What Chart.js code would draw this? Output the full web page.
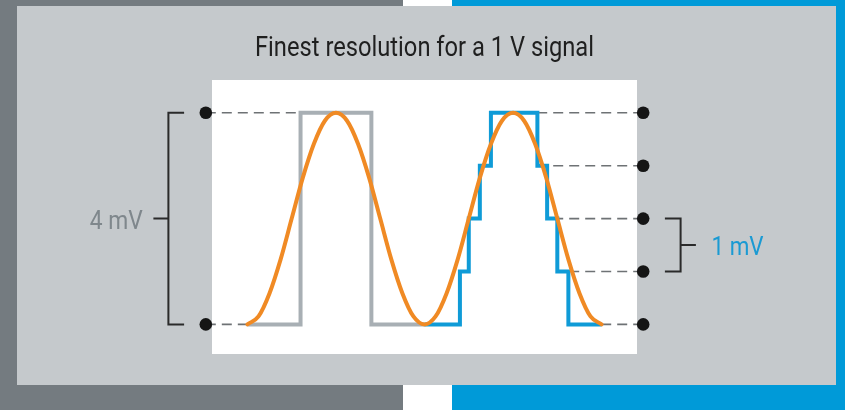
<!DOCTYPE html>
<html><head><meta charset="utf-8">
<script src="https://cdn.jsdelivr.net/npm/chart.js@4.4.0/dist/chart.umd.min.js"></script>
<style>html,body{margin:0;padding:0;background:#747b80;overflow:hidden}canvas{display:block}</style>
</head><body><canvas id="c" width="845" height="410"></canvas>
<script>
// ---- data ----
const titleText = 'Finest resolution for a 1 V signal';
const levels = [0, 1, 2, 3, 4];
// analog signal (orange)
const sineX = [0,2.5,5,7.5,10,12.5,15,17.5,20,22.5,25,27.5,30,32.5,35,37.5,40,42.5,45,47.5,50,52.5,55,57.5,60,62.5,65,67.5,70,72.5,75,77.5,80];
const sineY = [0,0.15,0.59,1.23,2,2.77,3.41,3.85,4,3.85,3.41,2.77,2,1.23,0.59,0.15,0,0.15,0.59,1.23,2,2.77,3.41,3.85,4,3.85,3.41,2.77,2,1.23,0.59,0.15,0];
// coarse quantisation (gray)
const coarseX = [0, 12, 28, 40];
const coarseY = [0, 4, 0, 0];
// fine quantisation (blue)
const fineX = [40, 48, 50, 52.5, 55, 65.5, 67.7, 70, 72.5, 80];
const fineY = [0, 1, 2, 3, 4, 3, 2, 1, 0, 0];
// level markers
const leftMarkX = -9.4;
const rightMarkX = 89.4;
const leftMarkLevels = [0, 4];
const leftMarkEnds = [0, 12];
const rightMarkEnds = [80, 72.5, 70, 67.7, 65.5];
const coarseSpan = [0, 4];
const fineSpan = [1, 2];
const coarseLabel = '4 mV';
const fineLabel = '1 mV';

const FONT = 'Roboto, "Liberation Sans", sans-serif';
const ORANGE = '#f08a24', BLUE = '#0f9bd7', GRAY = '#a8afb4';

const pts = (xs, ys) => xs.map((x, i) => ({x, y: ys[i]}));

const datasets = [
  {data: pts(sineX, sineY), borderColor: ORANGE, borderWidth: 4, cubicInterpolationMode: 'monotone', pointRadius: 0, borderCapStyle: 'round'},
  {data: pts(fineX, fineY), borderColor: BLUE, borderWidth: 4, stepped: true, pointRadius: 0, borderJoinStyle: 'miter'},
  {data: pts(coarseX, coarseY), borderColor: GRAY, borderWidth: 4, stepped: true, pointRadius: 0, borderJoinStyle: 'miter'}
];
const dashed = (x0, x1, lv) => ({
  data: [{x: x0, y: lv}, {x: x1, y: lv}],
  borderColor: '#6e7275', borderWidth: 1.6, borderDash: [10, 6],
  pointRadius: 0, clip: false
});
leftMarkLevels.forEach((lv, i) => datasets.push(dashed(leftMarkX, leftMarkEnds[i], lv)));
levels.forEach((lv, i) => datasets.push(dashed(rightMarkX, rightMarkEnds[i], lv)));

const bg = {
  id: 'bg',
  beforeDraw(chart) {
    const {ctx, chartArea: a} = chart;
    ctx.save();
    ctx.fillStyle = '#747b80'; ctx.fillRect(0, 0, 403, 410);
    ctx.fillStyle = '#ffffff'; ctx.fillRect(403, 0, 49, 410);
    ctx.fillStyle = '#009ad8'; ctx.fillRect(452, 0, 393, 410);
    ctx.fillStyle = '#c5c9cc'; ctx.fillRect(17, 6, 819, 379);
    ctx.fillStyle = '#ffffff'; ctx.fillRect(a.left, a.top, a.right - a.left, a.bottom - a.top);
    ctx.fillStyle = '#1f1f1f'; ctx.textAlign = 'center'; ctx.textBaseline = 'alphabetic';
    ctx.font = '400 27px ' + FONT;
    ctx.fillText(titleText, (a.left + a.right) / 2, a.top - 24, 339);
    ctx.restore();
  }
};

const marks = {
  id: 'marks',
  afterDatasetsDraw(chart) {
    const {ctx, scales: {x, y}} = chart;
    const lx = x.getPixelForValue(leftMarkX), rx = x.getPixelForValue(rightMarkX);
    ctx.save();
    // dots
    ctx.fillStyle = '#151515';
    const dot = (px, lv) => { ctx.beginPath(); ctx.arc(px, y.getPixelForValue(lv), 6.3, 0, Math.PI * 2); ctx.fill(); };
    leftMarkLevels.forEach(lv => dot(lx, lv));
    levels.forEach(lv => dot(rx, lv));
    ctx.strokeStyle = '#2a2a2a'; ctx.lineWidth = 2; ctx.lineCap = 'butt';
    // left bracket
    let y0 = y.getPixelForValue(coarseSpan[0]), y1 = y.getPixelForValue(coarseSpan[1]);
    let bx = lx - 37.4, ym = (y0 + y1) / 2;
    ctx.beginPath();
    ctx.moveTo(lx - 21.7, y1); ctx.lineTo(bx, y1); ctx.lineTo(bx, y0); ctx.lineTo(lx - 21.7, y0);
    ctx.moveTo(bx, ym); ctx.lineTo(bx - 15, ym);
    ctx.stroke();
    ctx.font = '400 25px ' + FONT; ctx.textBaseline = 'alphabetic';
    ctx.fillStyle = '#7f878c'; ctx.textAlign = 'right';
    ctx.fillText(coarseLabel, bx - 25.6, ym + 10, 53);
    // right bracket
    y0 = y.getPixelForValue(fineSpan[0]); y1 = y.getPixelForValue(fineSpan[1]);
    bx = rx + 37.4; ym = (y0 + y1) / 2;
    ctx.beginPath();
    ctx.moveTo(rx + 21.7, y1); ctx.lineTo(bx, y1); ctx.lineTo(bx, y0); ctx.lineTo(rx + 21.7, y0);
    ctx.moveTo(bx, ym); ctx.lineTo(bx + 15.3, ym);
    ctx.stroke();
    ctx.fillStyle = '#1a9ad3'; ctx.textAlign = 'left';
    ctx.fillText(fineLabel, bx + 31, ym + 9.5, 52);
    ctx.restore();
  }
};

new Chart(document.getElementById('c'), {
  type: 'line',
  data: {datasets},
  options: {
    responsive: false, animation: false, events: [], devicePixelRatio: 1,
    layout: {padding: {left: 212, right: 208, top: 80, bottom: 56}},
    scales: {
      x: {type: 'linear', min: -8, max: 88, display: false},
      y: {type: 'linear', min: -0.56, max: 4.62, display: false}
    },
    plugins: {legend: {display: false}, tooltip: {enabled: false}, title: {display: false}}
  },
  plugins: [bg, marks]
});
</script></body></html>
